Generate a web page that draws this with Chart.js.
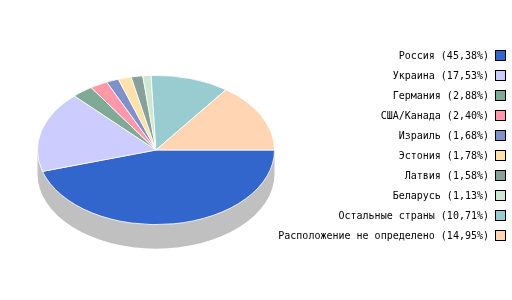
<!DOCTYPE html>
<html>
<head>
<meta charset="utf-8">
<script src="https://cdn.jsdelivr.net/npm/chart.js@4"></script>
<style>
    html, body { margin: 0; padding: 0; background: #ffffff; }
    #wrap { width: 512px; height: 300px; position: relative; }
</style>
</head>
<body>
<div id="wrap"><canvas id="pieChart" width="512" height="300"></canvas></div>
<script>
const categories = ['Россия', 'Украина', 'Германия', 'США/Канада', 'Израиль', 'Эстония', 'Латвия', 'Беларусь', 'Остальные страны', 'Расположение не определено'];
const shares = [45.38, 17.53, 2.88, 2.40, 1.68, 1.78, 1.58, 1.13, 10.71, 14.95];
const sliceColors = ['#3366cc', '#ccccff', '#80aa95', '#ff99aa', '#8090c8', '#ffe2aa', '#88a09a', '#cce8d0', '#99ccd0', '#ffd5b3'];

const squash = 0.63;   // ellipse ratio
const depth = 24;      // height of the grey side

// flattens the pie into an ellipse and draws the grey side under it
const tiltPlugin = {
    id: 'tilt',
    beforeDatasetsDraw(chart) {
        const ctx = chart.ctx;
        const arc = chart.getDatasetMeta(0).data[0];
        const cx = arc.x, cy = arc.y, r = arc.outerRadius;
        ctx.save();
        ctx.fillStyle = '#c0c0c0';
        ctx.beginPath();
        ctx.ellipse(cx, cy + depth, r, r * squash, 0, 0, Math.PI);
        ctx.lineTo(cx - r, cy);
        ctx.lineTo(cx + r, cy);
        ctx.closePath();
        ctx.fill();
        ctx.restore();

        ctx.save();
        ctx.translate(0, cy);
        ctx.scale(1, squash);
        ctx.translate(0, -cy);
    },
    afterDatasetsDraw(chart) {
        chart.ctx.restore();
    }
};

// legend on the right: label text, then the colour box
const sideLegend = {
    id: 'sideLegend',
    afterDraw(chart) {
        const ctx = chart.ctx;
        ctx.save();
        ctx.font = '10px "DejaVu Sans Mono", monospace';
        ctx.textAlign = 'right';
        ctx.textBaseline = 'middle';
        categories.forEach((name, i) => {
            const y = 56 + i * 20;
            const label = name + ' (' + shares[i].toFixed(2).replace('.', ',') + '%)';
            ctx.fillStyle = '#000000';
            ctx.fillText(label, 489, y);
            ctx.fillStyle = sliceColors[i];
            ctx.fillRect(495.5, y - 5.5, 10, 10);
            ctx.strokeStyle = '#000000';
            ctx.lineWidth = 1;
            ctx.strokeRect(495.5, y - 5.5, 10, 10);
        });
        ctx.restore();
    }
};

new Chart(document.getElementById('pieChart'), {
    type: 'pie',
    data: {
        labels: categories,
        datasets: [{
            data: shares,
            backgroundColor: sliceColors,
            borderColor: '#ffffff',
            borderWidth: 1
        }]
    },
    options: {
        responsive: false,
        animation: false,
        rotation: 90,
        layout: {
            padding: { left: 37, right: 237, top: 31, bottom: 31 }
        },
        plugins: {
            legend: { display: false },
            tooltip: { enabled: false }
        }
    },
    plugins: [tiltPlugin, sideLegend]
});
</script>
</body>
</html>
